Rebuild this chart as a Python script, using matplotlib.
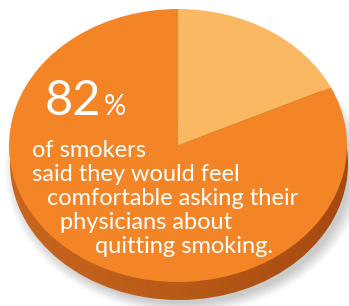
import numpy as np
import matplotlib
matplotlib.use("Agg")
import matplotlib.pyplot as plt
from matplotlib.patches import Ellipse
from matplotlib.colors import LinearSegmentedColormap

# data
shares = [18, 82]          # light slice, main slice (percent)
slice_colors = ["#FBB862", "#F38526"]
big_number = "82"
caption = ["of smokers",
           "said they would feel",
           "comfortable asking their",
           "physicians about",
           "quitting smoking."]

W, H = 349, 306
fig = plt.figure(figsize=(W / 100, H / 100), dpi=100)
fig.patch.set_facecolor("white")

# background layer in pixel coordinates: shadow + pie side
bg = fig.add_axes([0, 0, 1, 1])
bg.set_xlim(0, W)
bg.set_ylim(H, 0)
bg.axis("off")

cx, cy, rx, ry, depth = 178, 145.5, 169, 136.5, 18

# soft gray shadow
yy, xx = np.mgrid[0:H, 0:W] + 0.5
r = np.sqrt(((xx - cx - 6) / (rx + 2)) ** 2 + ((yy - cy - depth - 6) / (ry + 1)) ** 2)
alpha = np.clip((1.05 - r) / 0.08, 0, 1) * 0.45
shadow = np.zeros((H, W, 4))
shadow[..., :3] = 0.55
shadow[..., 3] = alpha
bg.imshow(shadow, extent=(0, W, H, 0), interpolation="bilinear", zorder=1)

# extruded side with a left-to-right gradient
side = Ellipse((cx + 1, cy + depth), 2 * rx, 2 * ry, facecolor="none", edgecolor="none")
bg.add_patch(side)
side_cmap = LinearSegmentedColormap.from_list("side", ["#C8661F", "#B85A18", "#A64910"])
grad = np.linspace(0, 1, 256).reshape(1, -1)
im = bg.imshow(grad, cmap=side_cmap, extent=(cx - rx, cx + rx + 2, cy + depth + ry, cy - ry),
               aspect="auto", zorder=2)
im.set_clip_path(side)

# pie top face, stretched to an ellipse
pie_ax = fig.add_axes([(cx - rx) / W, (H - cy - ry) / H, 2 * rx / W, 2 * ry / H])
pie_ax.pie(shares, colors=slice_colors, startangle=90, counterclock=False,
           wedgeprops=dict(linewidth=0))
pie_ax.set_aspect("auto")
pie_ax.set_xlim(-1, 1)
pie_ax.set_ylim(-1, 1)
pie_ax.axis("off")

# text layer
tx = fig.add_axes([0, 0, 1, 1])
tx.set_xlim(0, W)
tx.set_ylim(H, 0)
tx.axis("off")
tx.patch.set_alpha(0)

font = "Lato"
tx.text(45, 115, big_number, color="white", fontsize=35, family=font, va="baseline")
tx.text(104, 115, "%", color="white", fontsize=20, family=font, va="baseline")

line_x = [32, 32, 47, 60, 95]
for i, (line, x) in enumerate(zip(caption, line_x)):
    tx.text(x, 157 + i * 24, line, color="white", fontsize=17, family=font,
            va="baseline")

fig.savefig("out.png", dpi=100)
